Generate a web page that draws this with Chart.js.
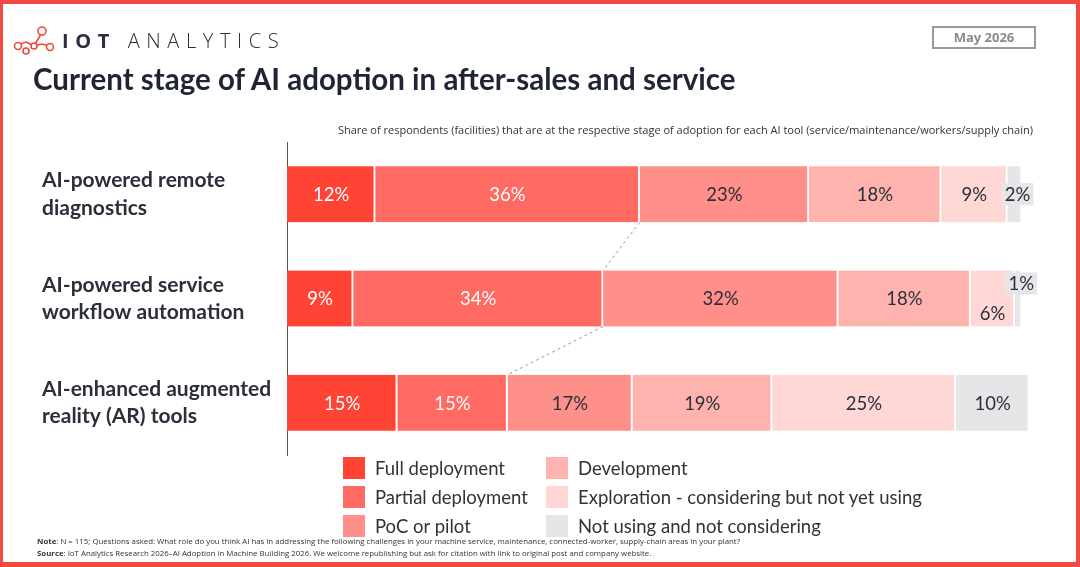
<!DOCTYPE html>
<html>
<head>
<meta charset="utf-8">
<script src="https://cdn.jsdelivr.net/npm/chart.js@4/dist/chart.umd.min.js"></script>
<style>
  html, body { margin:0; padding:0; background:#fff; }
  #wrap { position:relative; width:1080px; height:567px; box-sizing:border-box; border:4px solid #F24A40; border-bottom-width:5px; border-left-width:3px; overflow:hidden; font-family:Lato, "Open Sans", sans-serif; }
  #chartCanvas { position:absolute; left:-3px; top:-4px; }
  .abs { position:absolute; white-space:nowrap; }
  #logoText { left:59px; top:23px; font-family:"Open Sans", sans-serif; font-size:20px; letter-spacing:6.6px; color:#2b2f3a; }
  #logoText b { font-weight:700; }
  #logoText span { font-weight:300; }
  #title { left:30px; top:57px; font-size:29.5px; font-weight:700; color:#1f2533; }
  #subtitle { right:43px; top:118px; font-family:"Open Sans", sans-serif; font-size:11px; color:#333; }
  #date { left:929px; top:22px; width:100px; height:19px; border:2px solid #9a9a9a; color:#8a8a8a; font-family:"Open Sans", sans-serif; font-weight:700; font-size:13px; text-align:center; line-height:19px; }
  #legend { left:340px; top:453px; font-size:18.5px; color:#333; }
  .li { position:absolute; display:flex; align-items:center; white-space:nowrap; }
  .sw { width:22px; height:22px; margin-right:10px; }
  #note { left:34px; top:531px; font-family:"Liberation Sans Narrow", "Open Sans", sans-serif; font-size:7.85px; color:#333; line-height:12px; }
</style>
</head>
<body>
<div id="wrap">
  <canvas id="chartCanvas" width="1080" height="567"></canvas>
  <svg class="abs" style="left:9px;top:20px" width="46" height="32" viewBox="0 0 46 32">
    <g fill="none" stroke="#EE4B3F" stroke-width="1.6">
      <line x1="6" y1="21" x2="14" y2="18"/>
      <line x1="14" y1="18" x2="22" y2="22"/>
      <line x1="22" y1="22" x2="30" y2="20"/>
      <line x1="22" y1="22" x2="29" y2="10"/>
      <line x1="30" y1="20" x2="37" y2="22"/>
      <circle cx="6" cy="22" r="3.5" fill="#fff"/>
      <circle cx="14" cy="27" r="3" fill="#fff"/>
      <circle cx="22" cy="22" r="3" fill="#fff"/>
      <circle cx="30" cy="7" r="4" fill="#fff"/>
      <circle cx="38" cy="23" r="3.5" fill="#fff"/>
    </g>
  </svg>
  <div id="logoText" class="abs"><b>IOT</b> <span>ANALYTICS</span></div>
  <div id="date" class="abs">May 2026</div>
  <div id="title" class="abs">Current stage of AI adoption in after-sales and service</div>
  <div id="subtitle" class="abs">Share of respondents (facilities) that are at the respective stage of adoption for each AI tool (service/maintenance/workers/supply chain)</div>
  <div id="legend" class="abs"></div>
  <div id="note" class="abs"><b>Note</b>: N = 115; Questions asked: What role do you think AI has in addressing the following challenges in your machine service, maintenance, connected-worker, supply-chain areas in your plant?<br><b>Source</b>: IoT Analytics Research 2026–AI Adoption in Machine Building 2026. We welcome republishing but ask for citation with link to original post and company website.</div>
</div>
<script>
// ---- data ----
const categories = [
  ["AI-powered remote", "diagnostics"],
  ["AI-powered service", "workflow automation"],
  ["AI-enhanced augmented", "reality (AR) tools"]
];
const stages = [
  "Full deployment",
  "Partial deployment",
  "PoC or pilot",
  "Development",
  "Exploration - considering but not yet using",
  "Not using and not considering"
];
const fullDeployment    = [12, 9, 15];
const partialDeployment = [36, 34, 15];
const pocOrPilot        = [23, 32, 17];
const development       = [18, 18, 19];
const exploration       = [9, 6, 25];
const notUsing          = [2, 1, 10];
const seriesValues = [fullDeployment, partialDeployment, pocOrPilot, development, exploration, notUsing];

// ---- styles ----
const colors = ["#FF4436", "#FF6B63", "#FF8F89", "#FFB3AF", "#FFD8D6", "#E6E6E8"];
const labelColors = ["#ffffff", "#ffffff", "#2b2f3a", "#2b2f3a", "#2b2f3a", "#2b2f3a"];

// legend (HTML)
const legendEl = document.getElementById('legend');
const legPos = [[0,0],[0,29],[0,58],[203,0],[203,29],[203,58]];
stages.forEach((s, i) => {
  const d = document.createElement('div');
  d.className = 'li';
  d.style.left = legPos[i][0] + 'px';
  d.style.top = legPos[i][1] + 'px';
  d.innerHTML = '<div class="sw" style="background:' + colors[i] + '"></div><div>' + s + '</div>';
  legendEl.appendChild(d);
});

const datasets = seriesValues.map((vals, i) => ({
  label: stages[i],
  data: vals,
  backgroundColor: colors[i],
  borderColor: '#ffffff',
  borderWidth: {top: 0, bottom: 0, left: 0, right: 2},
  borderSkipped: false,
  barThickness: 56,
  clip: false
}));

const labelPlugin = {
  id: 'segLabels',
  afterDatasetsDraw(chart) {
    const ctx = chart.ctx;
    ctx.save();
    // dashed connectors between partial deployment ends
    const pm = chart.getDatasetMeta(1).data;
    ctx.strokeStyle = '#9a9a9a';
    ctx.lineWidth = 1;
    ctx.setLineDash([3, 3]);
    for (let r = 0; r < pm.length - 1; r++) {
      const a = pm[r], b = pm[r + 1];
      ctx.beginPath();
      ctx.moveTo(a.x, a.y + a.height / 2);
      ctx.lineTo(b.x, b.y - b.height / 2);
      ctx.stroke();
    }
    ctx.setLineDash([]);
    ctx.font = '18.5px Lato, "Open Sans", sans-serif';
    ctx.textAlign = 'center';
    ctx.textBaseline = 'middle';
    const nDs = chart.data.datasets.length;
    for (let r = 0; r < chart.data.labels.length; r++) {
      for (let i = 0; i < nDs; i++) {
        const el = chart.getDatasetMeta(i).data[r];
        const v = chart.data.datasets[i].data[r];
        const w = el.x - el.base;
        let cx = (el.x + el.base) / 2, cy = el.y;
        const txt = v + '%';
        if (w < 25) {
          // small segment: boxed label
          const prev = chart.getDatasetMeta(i - 1).data[r];
          const stagger = (prev.x - prev.base) < 50;
          cx += 3;
          if (stagger) cy -= 15;
          const tw = ctx.measureText(txt).width + 6;
          ctx.fillStyle = '#E6E6E8';
          ctx.fillRect(cx - tw / 2, cy - 11, tw, 22);
          ctx.fillStyle = labelColors[i];
          ctx.fillText(txt, cx, cy + 1);
        } else {
          const next = chart.getDatasetMeta(i + 1 < nDs ? i + 1 : i).data[r];
          if (i + 1 < nDs && (next.x - next.base) < 25 && w < 50) cy += 15;
          ctx.fillStyle = labelColors[i];
          ctx.fillText(txt, cx, cy + 1);
        }
      }
    }
    ctx.restore();
  }
};

new Chart(document.getElementById('chartCanvas'), {
  type: 'bar',
  data: { labels: categories, datasets: datasets },
  options: {
    indexAxis: 'y',
    responsive: false,
    animation: false,
    layout: { padding: { left: 42, right: 58, top: 142, bottom: 112 } },
    plugins: { legend: { display: false }, tooltip: { enabled: false } },
    scales: {
      x: { stacked: true, min: 0, max: 100, display: false },
      y: {
        stacked: true,
        grid: { display: false, drawTicks: false },
        border: { display: true, color: '#555', width: 1 },
        ticks: {
          crossAlign: 'far',
          padding: 0,
          color: '#2b2f3a',
          font: { family: 'Lato, "Open Sans", sans-serif', size: 21, weight: 'bold', lineHeight: 1.3 }
        },
        afterFit(scale) { scale.width = 245; }
      }
    }
  },
  plugins: [labelPlugin]
});
</script>
</body>
</html>
